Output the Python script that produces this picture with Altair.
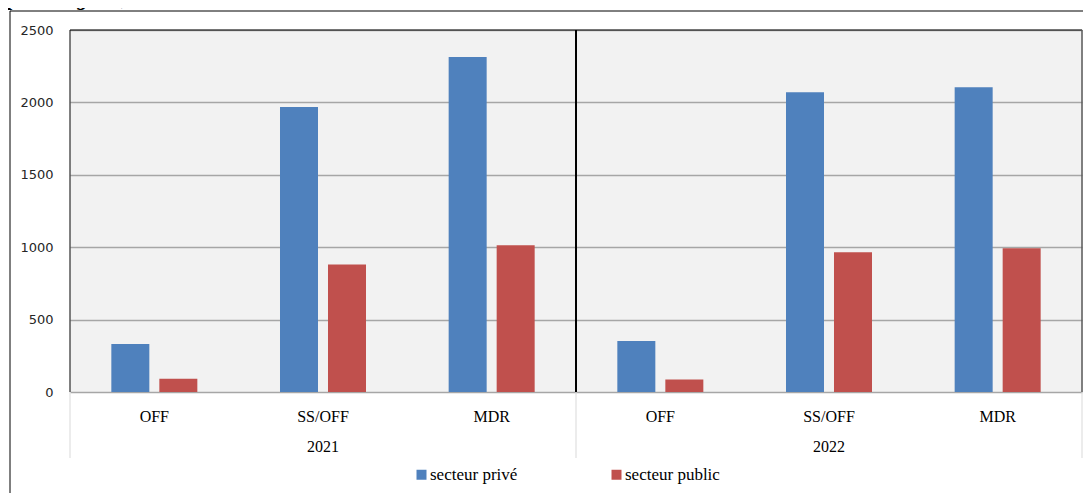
import altair as alt
import pandas as pd

years = ["2021", "2022"]
categories = ["OFF", "SS/OFF", "MDR"]
sectors = ["secteur privé", "secteur public"]
prive_2021 = [332, 1968, 2314]
public_2021 = [92, 880, 1013]
prive_2022 = [352, 2070, 2105]
public_2022 = [87, 965, 992]
title_text = "par catégorie, en 2021 et 2022"
y_ticks = [0, 500, 1000, 1500, 2000, 2500]
colors = ["#4f81bd", "#c0504d"]

rows = []
for year, prive, public in [("2021", prive_2021, public_2021), ("2022", prive_2022, public_2022)]:
    for cat, vp, vq in zip(categories, prive, public):
        key = f"{year}|{cat}"
        rows.append(dict(key=key, year=year, cat=cat, sector=sectors[0], value=vp))
        rows.append(dict(key=key, year=year, cat=cat, sector=sectors[1], value=vq))
df = pd.DataFrame(rows)
keys = [f"{y}|{c}" for y in years for c in categories]

W, H = 1012, 362
serif = "Liberation Serif"
xscale = alt.Scale(domain=keys, paddingInner=0, paddingOuter=0)

bars = alt.Chart(df).mark_bar().encode(
    x=alt.X("key:N", scale=xscale, sort=keys, title=None,
            axis=alt.Axis(labelExpr="split(datum.label, '|')[1]", ticks=False, tickSize=0,
                          domain=False, grid=False, labelPadding=29, labelBaseline="alphabetic",
                          labelFont=serif, labelFontSize=16, labelColor="#000000", labelAngle=0)),
    xOffset=alt.XOffset("sector:N", scale=alt.Scale(domain=sectors, paddingInner=0.2083, paddingOuter=0.861)),
    y=alt.Y("value:Q", scale=alt.Scale(domain=[0, 2500]), title=None,
            axis=alt.Axis(values=y_ticks, format="d", ticks=False, tickSize=0, domain=False, labelPadding=17,
                          labelFont="DejaVu Sans", labelFontSize=13, labelColor="#262626",
                          gridColor="#a6a6a6", gridWidth=1.5)),
    color=alt.Color("sector:N", scale=alt.Scale(domain=sectors, range=colors),
                    legend=alt.Legend(orient="none", legendX=343, legendY=436, direction="horizontal",
                                      title=None, symbolType="square", symbolSize=100,
                                      symbolStrokeWidth=0, labelFont=serif, labelFontSize=17,
                                      labelOffset=0, columnPadding=90, padding=0,
                                      labelColor="#000000")),
)

year_df = pd.DataFrame({"key": [f"{y}|{categories[1]}" for y in years], "year": years})
year_text = alt.Chart(year_df).mark_text(font=serif, fontSize=16, baseline="alphabetic",
                                         align="center", color="#000000").encode(
    x=alt.X("key:N", title=None), y=alt.value(H + 60), text="year:N")

one = pd.DataFrame({"a": [0]})
sep_start = alt.Chart(pd.DataFrame({"key": [keys[0], keys[3]]})).mark_rule(
    color="#d9d9d9", strokeWidth=1).encode(
    x=alt.X("key:N", bandPosition=0, title=None), y=alt.value(H), y2=alt.value(H + 66))
sep_end = alt.Chart(pd.DataFrame({"key": [keys[-1]]})).mark_rule(
    color="#d9d9d9", strokeWidth=1).encode(
    x=alt.X("key:N", bandPosition=1, title=None), y=alt.value(H), y2=alt.value(H + 66))
mid_line = alt.Chart(pd.DataFrame({"key": [keys[3]]})).mark_rule(
    color="#000000", strokeWidth=2).encode(
    x=alt.X("key:N", bandPosition=0, title=None), y=alt.value(0), y2=alt.value(H))

top_border = alt.Chart(one).mark_rule(color="#000000", strokeWidth=1).encode(
    x=alt.value(0), x2=alt.value(W), y=alt.value(0))
left_border = alt.Chart(one).mark_rule(color="#000000", strokeWidth=1).encode(
    x=alt.value(0), y=alt.value(0), y2=alt.value(H))
right_border = alt.Chart(one).mark_rule(color="#595959", strokeWidth=1.5).encode(
    x=alt.value(W), y=alt.value(0), y2=alt.value(H))

frame_left = alt.Chart(one).mark_rule(color="#000000", strokeWidth=1).encode(
    x=alt.value(-60), y=alt.value(-19), y2=alt.value(H + 101))
frame_top = alt.Chart(one).mark_rule(color="#000000", strokeWidth=1).encode(
    x=alt.value(-60), x2=alt.value(W + 1), y=alt.value(-19))

title = alt.Chart(one).mark_text(font=serif, fontSize=21, fontStyle="italic", fontWeight="bold",
                                 align="left", baseline="alphabetic", color="#000000").encode(
    x=alt.value(-62), y=alt.value(-25), text=alt.value(title_text))

chart = alt.layer(
    bars, sep_start, sep_end, mid_line, top_border, left_border, right_border,
    year_text, frame_left, frame_top, title
).properties(
    width=W, height=H,
    autosize=alt.AutoSizeParams(type="none"),
    padding={"left": 62, "top": 22, "right": 1, "bottom": 101},
    background="#ffffff",
).configure_view(
    fill="#f2f2f2", stroke="transparent"
).configure_legend(
    labelFont=serif, labelFontSize=17, labelColor="#000000"
)

chart.save("out.html", embed_options={"renderer": "svg", "actions": False})
